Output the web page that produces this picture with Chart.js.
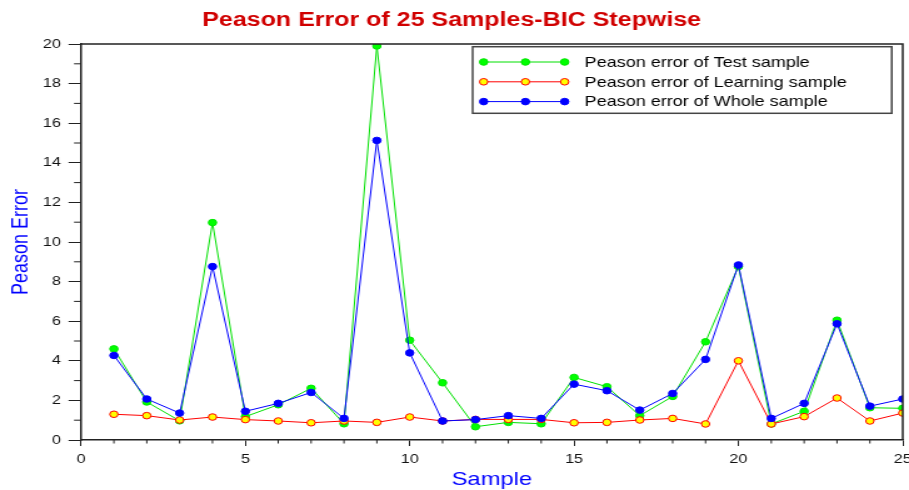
<!DOCTYPE html>
<html>
<head>
<meta charset="utf-8">
<title>Peason Error of 25 Samples-BIC Stepwise</title>
<script src="https://cdn.jsdelivr.net/npm/chart.js@4.4.1/dist/chart.umd.min.js"></script>
<style>
  html, body { margin: 0; padding: 0; background: #fff; overflow: hidden; }
  /* the reference picture is stretched sideways, so the canvas is too */
  #chart { display: block; width: 909px; height: 490px; }
</style>
</head>
<body>
<canvas id="chart" width="727" height="490" style="width:909px;height:490px"></canvas>
<script>
// ─── Data ────────────────────────────────────────────────────────────

const samples = [1, 2, 3, 4, 5, 6, 7, 8, 9, 10, 11, 12, 13, 14, 15, 16, 17, 18, 19, 20, 21, 22, 23, 24, 25];

const testErr  = [4.60, 1.92, 0.97, 10.98, 1.18, 1.78, 2.61, 0.82, 19.90, 5.04, 2.89, 0.67, 0.89,
                  0.82, 3.16, 2.69, 1.23, 2.20, 4.96, 8.76, 0.81, 1.45, 6.05, 1.63, 1.60];
const learnErr = [1.30, 1.23, 1.01, 1.16, 1.03, 0.96, 0.87, 0.96, 0.89, 1.16, 0.96, 1.04, 1.04,
                  1.04, 0.87, 0.89, 1.01, 1.09, 0.81, 4.00, 0.81, 1.18, 2.12, 0.96, 1.36];
const wholeErr = [4.27, 2.07, 1.36, 8.76, 1.45, 1.85, 2.40, 1.09, 15.13, 4.40, 0.96, 1.03, 1.23,
                  1.09, 2.82, 2.49, 1.51, 2.35, 4.07, 8.84, 1.09, 1.85, 5.87, 1.71, 2.07];

const FONT = '"Liberation Sans", Arial, sans-serif';
const AXIS = '#222';

function points(values) {
  return samples.map((s, i) => ({ x: s, y: values[i] }));
}

function series(label, values, line, fill, edge, order) {
  return {
    label,
    data: points(values),
    borderColor: line,
    borderWidth: 1,
    pointRadius: 3.3,
    pointBorderWidth: 1,
    pointBackgroundColor: fill,
    pointBorderColor: edge,
    tension: 0,
    order,
  };
}

// ─── Plugins ─────────────────────────────────────────────────────────

// shorter minor ticks + the top/right frame
const frame = {
  id: 'frame',
  afterDraw(chart) {
    const { ctx, chartArea: a, scales } = chart;
    ctx.save();
    ctx.strokeStyle = AXIS;
    ctx.lineWidth = 1;
    ctx.beginPath();
    for (const t of scales.y.ticks) {
      if (t.value % 2 === 0) continue;
      const y = scales.y.getPixelForValue(t.value);
      ctx.moveTo(a.left - 5.6, y);
      ctx.lineTo(a.left, y);
    }
    for (const t of scales.x.ticks) {
      if (t.value % 5 === 0) continue;
      const x = scales.x.getPixelForValue(t.value);
      ctx.moveTo(x, a.bottom);
      ctx.lineTo(x, a.bottom + 3.5);
    }
    ctx.stroke();

    ctx.lineWidth = 1.5;
    ctx.beginPath();
    ctx.moveTo(a.left, a.top);
    ctx.lineTo(a.right, a.top);
    ctx.lineTo(a.right, a.bottom);
    ctx.stroke();
    ctx.restore();
  }
};

// boxed legend in the upper right corner of the plot
const boxLegend = {
  id: 'boxLegend',
  afterDatasetsDraw(chart) {
    const { ctx, chartArea: a } = chart;
    const sets = chart.data.datasets;
    ctx.save();
    ctx.font = '14.4px ' + FONT;
    const textW = Math.max(...sets.map(d => ctx.measureText(d.label).width));
    const w = 89.6 + textW + 36;
    const h = 66.6;
    const x0 = a.right - 8.8 - w;
    const y0 = a.top + 2.7;

    ctx.fillStyle = '#fff';
    ctx.fillRect(x0, y0, w, h);
    ctx.strokeStyle = '#444';
    ctx.lineWidth = 1.5;
    ctx.strokeRect(x0, y0, w, h);

    sets.forEach((d, i) => {
      const y = y0 + 15.3 + i * 19.8;
      ctx.strokeStyle = d.borderColor;
      ctx.lineWidth = 1;
      ctx.beginPath();
      ctx.moveTo(x0 + 8.8, y);
      ctx.lineTo(x0 + 73.6, y);
      ctx.stroke();
      for (const dx of [8.8, 42.2, 73.6]) {
        ctx.beginPath();
        ctx.arc(x0 + dx, y, 3.3, 0, Math.PI * 2);
        ctx.fillStyle = d.pointBackgroundColor;
        ctx.fill();
        ctx.strokeStyle = d.pointBorderColor;
        ctx.stroke();
      }
      ctx.fillStyle = '#000';
      ctx.textBaseline = 'middle';
      ctx.fillText(d.label, x0 + 89.6, y + 0.8);
    });
    ctx.restore();
  }
};

// ─── Chart ───────────────────────────────────────────────────────────

new Chart(document.getElementById('chart'), {
  type: 'line',
  data: {
    datasets: [
      series('Peason error of Test sample', testErr, '#00e000', '#00ff00', '#00e600', 2),
      series('Peason error of Learning sample', learnErr, '#ff0000', '#ffff00', '#ff0000', 1),
      series('Peason error of Whole sample', wholeErr, '#0000ff', '#0000ff', '#0000ff', 0),
    ]
  },
  options: {
    responsive: false,
    animation: false,
    events: [],
    layout: { padding: { left: 0, right: 4.6, top: 0, bottom: 0 } },
    plugins: {
      legend: { display: false },
      tooltip: { enabled: false },
      title: {
        display: true,
        text: 'Peason Error of 25 Samples-BIC Stepwise',
        color: '#d00000',
        font: { family: FONT, size: 20, weight: 'bold' },
        padding: { top: 8.5, bottom: 11.5 },
      },
    },
    scales: {
      x: {
        type: 'linear',
        min: 0,
        max: 25,
        afterFit(s) { s.height = 50; s.paddingLeft = 0; s.paddingRight = 0; },
        border: { color: AXIS, width: 1.5 },
        grid: {
          drawOnChartArea: false,
          tickLength: 6,
          color: c => (c.tick && c.tick.value % 5 === 0) ? AXIS : 'rgba(0,0,0,0)',
        },
        ticks: {
          stepSize: 1,
          autoSkip: false,
          maxRotation: 0,
          padding: 6,
          color: '#111',
          font: { family: FONT, size: 13 },
          callback: v => (v % 5 === 0 ? v : ''),
        },
        title: {
          display: true,
          text: 'Sample',
          color: '#0000ff',
          font: { family: FONT, size: 19 },
          padding: { top: 0, bottom: -1 },
        },
      },
      y: {
        min: 0,
        max: 20,
        afterFit(s) { s.width = 64.8; s.paddingTop = 0; s.paddingBottom = 0; },
        border: { color: AXIS, width: 1.5 },
        grid: {
          drawOnChartArea: false,
          tickLength: 10,
          color: c => (c.tick && c.tick.value % 2 === 0) ? AXIS : 'rgba(0,0,0,0)',
        },
        ticks: {
          stepSize: 1,
          autoSkip: false,
          padding: 6,
          color: '#111',
          font: { family: FONT, size: 13 },
          callback: v => (v % 2 === 0 ? v : ''),
        },
        title: {
          display: true,
          text: 'Peason Error',
          color: '#0000ff',
          font: { family: FONT, size: 18 },
          padding: { top: 6, bottom: 0 },
        },
      },
    },
  },
  plugins: [frame, boxLegend],
});
</script>
</body>
</html>
